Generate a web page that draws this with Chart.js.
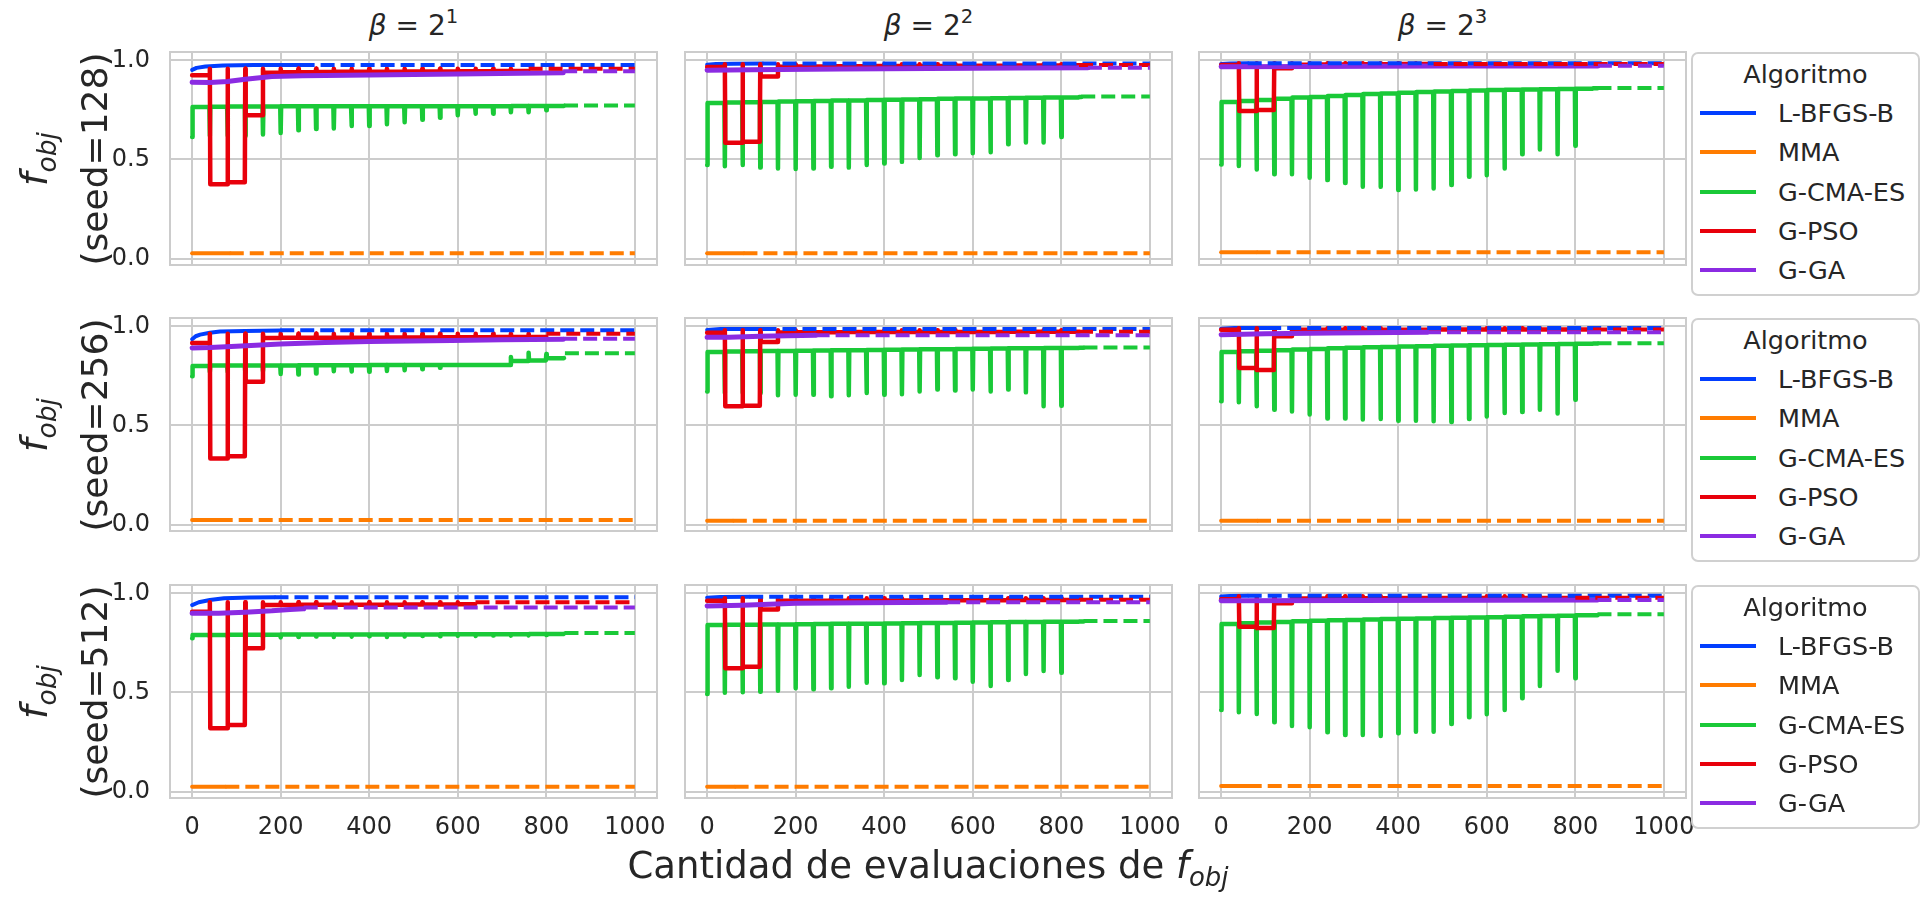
<!DOCTYPE html>
<html>
<head>
<meta charset="utf-8">
<script src="https://cdn.jsdelivr.net/npm/chart.js@4.4.1/dist/chart.umd.min.js"></script>
<style>
  body { margin: 0; width: 1925px; height: 898px; overflow: hidden; position: relative; background: #fff;
         font-family: 'DejaVu Sans', sans-serif; color: #262626; }
  canvas { position: absolute; }
  .txt { position: absolute; white-space: nowrap; text-align: center; }
  .legend { position: absolute; box-sizing: border-box; border: 2px solid #d0d0d0; border-radius: 7px; background: #fff; }
  .legend div { position: absolute; white-space: nowrap; }
</style>
</head>
<body>
<script>
// axis ticks and panel labels
const evalTicks = [0, 200, 400, 600, 800, 1000];
const fTicks = [0, 0.5, 1.0];
const betaExp = ['1', '2', '3'];
const seeds = ['128', '256', '512'];
const algorithms = ['L-BFGS-B', 'MMA', 'G-CMA-ES', 'G-PSO', 'G-GA'];
const algoColors = ['#023eff', '#ff7c00', '#1ac938', '#e8000b', '#8b2be2'];

// restarts of the population methods happen every 40 evaluations
const restartEvals = [0, 40, 80, 120, 160, 200, 240, 280, 320, 360, 400, 440, 480, 520, 560, 600, 640, 680, 720, 760, 800, 840];

// panels in reading order: seed 128 (beta 2^1, 2^2, 2^3), seed 256 ..., seed 512 ...
const lbfgsPoints = [
  [[0, 0.952], [10, 0.962], [30, 0.969], [70, 0.974], [140, 0.977], [245, 0.977]],
  [[0, 0.978], [20, 0.981], [60, 0.983], [125, 0.984]],
  [[0, 0.982], [20, 0.984], [60, 0.985]],
  [[0, 0.935], [8, 0.950], [18, 0.958], [40, 0.968], [63, 0.974], [120, 0.977], [199, 0.979]],
  [[0, 0.982], [30, 0.986], [125, 0.987]],
  [[0, 0.988], [30, 0.991], [104, 0.992]],
  [[0, 0.941], [15, 0.955], [40, 0.966], [72, 0.975], [130, 0.979], [186, 0.980]],
  [[0, 0.978], [30, 0.982], [95, 0.983]],
  [[0, 0.984], [20, 0.987], [60, 0.988]]
];
const lbfgsFinal = [0.977, 0.984, 0.985, 0.980, 0.987, 0.992, 0.980, 0.983, 0.988];

const mmaLevel = [0.027, 0.027, 0.032, 0.024, 0.020, 0.020, 0.025, 0.025, 0.028];
const mmaEnd = [85, 82, 80, 60, 58, 81, 75, 62, 60];

const cmaBase = [
  [0.765, 0.766, 0.767, 0.767, 0.767, 0.768, 0.768, 0.768, 0.768, 0.768, 0.768, 0.768, 0.769, 0.769, 0.769, 0.769, 0.769, 0.769, 0.770, 0.770, 0.770, 0.771],
  [0.785, 0.787, 0.789, 0.790, 0.792, 0.794, 0.795, 0.797, 0.798, 0.800, 0.801, 0.803, 0.804, 0.806, 0.807, 0.808, 0.809, 0.810, 0.811, 0.812, 0.813, 0.815],
  [0.790, 0.795, 0.800, 0.806, 0.812, 0.815, 0.820, 0.825, 0.830, 0.833, 0.837, 0.840, 0.843, 0.845, 0.848, 0.850, 0.852, 0.853, 0.854, 0.855, 0.857, 0.859],
  [0.800, 0.802, 0.803, 0.803, 0.803, 0.803, 0.804, 0.804, 0.804, 0.804, 0.805, 0.805, 0.805, 0.805, 0.805, 0.805, 0.805, 0.805, 0.825, 0.828, 0.839, 0.840],
  [0.871, 0.873, 0.874, 0.875, 0.876, 0.877, 0.878, 0.879, 0.880, 0.881, 0.882, 0.883, 0.884, 0.885, 0.886, 0.887, 0.888, 0.889, 0.890, 0.891, 0.891, 0.892],
  [0.871, 0.874, 0.877, 0.880, 0.883, 0.886, 0.889, 0.892, 0.894, 0.896, 0.898, 0.900, 0.902, 0.903, 0.905, 0.906, 0.907, 0.909, 0.910, 0.911, 0.912, 0.913],
  [0.790, 0.790, 0.791, 0.791, 0.791, 0.792, 0.792, 0.792, 0.792, 0.793, 0.793, 0.793, 0.793, 0.793, 0.794, 0.794, 0.794, 0.794, 0.794, 0.795, 0.795, 0.796],
  [0.840, 0.841, 0.842, 0.843, 0.843, 0.844, 0.845, 0.846, 0.846, 0.847, 0.848, 0.849, 0.850, 0.851, 0.852, 0.853, 0.854, 0.855, 0.856, 0.857, 0.857, 0.858],
  [0.845, 0.849, 0.853, 0.856, 0.859, 0.862, 0.864, 0.866, 0.868, 0.870, 0.872, 0.873, 0.875, 0.877, 0.878, 0.880, 0.882, 0.884, 0.886, 0.887, 0.889, 0.890]
];
const cmaDip = [
  [0.614, 0.620, 0.620, 0.620, 0.626, 0.634, 0.648, 0.654, 0.656, 0.669, 0.669, 0.678, 0.688, 0.701, 0.710, 0.723, 0.731, 0.731, 0.738, 0.738, 0.748],
  [0.472, 0.466, 0.472, 0.459, 0.455, 0.452, 0.455, 0.463, 0.459, 0.472, 0.480, 0.488, 0.508, 0.521, 0.526, 0.532, 0.537, 0.577, 0.586, 0.586, 0.614],
  [0.475, 0.467, 0.450, 0.426, 0.426, 0.408, 0.396, 0.382, 0.362, 0.362, 0.346, 0.349, 0.354, 0.371, 0.413, 0.421, 0.455, 0.527, 0.551, 0.527, 0.569],
  [0.748, 0.770, 0.770, 0.770, 0.775, 0.760, 0.757, 0.762, 0.773, 0.772, 0.771, 0.775, 0.778, 0.783, 0.791, 0.805, 0.805, 0.805, 0.845, 0.867, 0.860],
  [0.672, 0.664, 0.664, 0.664, 0.652, 0.655, 0.655, 0.647, 0.652, 0.664, 0.655, 0.658, 0.672, 0.681, 0.676, 0.681, 0.672, 0.681, 0.667, 0.597, 0.600],
  [0.622, 0.617, 0.597, 0.580, 0.571, 0.555, 0.535, 0.535, 0.530, 0.533, 0.524, 0.524, 0.521, 0.518, 0.533, 0.545, 0.563, 0.568, 0.580, 0.560, 0.630],
  [0.773, 0.780, 0.780, 0.780, 0.780, 0.778, 0.780, 0.782, 0.780, 0.782, 0.784, 0.780, 0.782, 0.785, 0.783, 0.786, 0.785, 0.787, 0.787, 0.788, 0.790],
  [0.492, 0.499, 0.501, 0.504, 0.509, 0.521, 0.516, 0.521, 0.529, 0.549, 0.546, 0.563, 0.588, 0.577, 0.572, 0.554, 0.533, 0.563, 0.593, 0.608, 0.600],
  [0.412, 0.400, 0.392, 0.350, 0.331, 0.325, 0.299, 0.286, 0.286, 0.281, 0.294, 0.302, 0.302, 0.341, 0.375, 0.390, 0.412, 0.471, 0.533, 0.610, 0.572]
];
const cmaEnd = [840, 845, 850, 842, 850, 850, 841, 850, 850];
const cmaFinal = [0.772, 0.818, 0.861, 0.864, 0.893, 0.915, 0.800, 0.860, 0.894];

const psoLevels = [
  [0.925, 0.375, 0.385, 0.723, 0.938, 0.940, 0.940, 0.941, 0.942, 0.942, 0.943, 0.943, 0.944, 0.944, 0.944, 0.945, 0.945, 0.946, 0.946],
  [0.966, 0.585, 0.590, 0.918, 0.968, 0.969, 0.969, 0.970, 0.970, 0.971, 0.971, 0.972, 0.972, 0.972, 0.973, 0.973, 0.973, 0.974, 0.974, 0.974, 0.975],
  [0.977, 0.745, 0.750, 0.960, 0.978, 0.979, 0.979, 0.980, 0.980, 0.980, 0.981, 0.981],
  [0.916, 0.333, 0.345, 0.720, 0.941, 0.942, 0.942, 0.942, 0.943, 0.943, 0.943, 0.944, 0.944, 0.944, 0.945, 0.945, 0.945, 0.946, 0.946, 0.946],
  [0.967, 0.597, 0.600, 0.921, 0.969, 0.970, 0.970, 0.970, 0.971, 0.971, 0.971, 0.971, 0.972, 0.972, 0.972, 0.972, 0.972, 0.973, 0.973, 0.973, 0.973],
  [0.983, 0.790, 0.780, 0.950, 0.983, 0.983, 0.983, 0.983, 0.983, 0.983, 0.983, 0.983, 0.984, 0.984, 0.984, 0.984, 0.984, 0.984, 0.984, 0.984, 0.984],
  [0.907, 0.320, 0.336, 0.723, 0.941, 0.941, 0.942, 0.942, 0.942, 0.943, 0.943, 0.943, 0.944, 0.944, 0.944, 0.945],
  [0.963, 0.622, 0.630, 0.919, 0.962, 0.963, 0.963, 0.963, 0.964, 0.964, 0.964, 0.964, 0.965, 0.965, 0.965, 0.965, 0.965, 0.966, 0.966, 0.966, 0.966],
  [0.970, 0.832, 0.825, 0.950, 0.974, 0.974, 0.975, 0.975, 0.975, 0.975, 0.976, 0.976, 0.976, 0.976, 0.976, 0.977, 0.977, 0.977, 0.977, 0.977]
];
const psoPeak = [0.958, 0.980, 0.985, 0.963, 0.980, 0.990, 0.955, 0.975, 0.985];
const psoFinal = [0.958, 0.976, 0.982, 0.963, 0.973, 0.984, 0.955, 0.968, 0.978];

const gaPoints = [
  [[0, 0.890], [40, 0.888], [80, 0.893], [120, 0.905], [180, 0.918], [250, 0.922], [400, 0.926], [600, 0.931], [838, 0.937]],
  [[0, 0.950], [100, 0.952], [300, 0.956], [500, 0.959], [700, 0.961], [860, 0.963]],
  [[0, 0.968], [200, 0.969], [500, 0.971], [851, 0.972]],
  [[0, 0.891], [40, 0.893], [100, 0.900], [199, 0.911], [300, 0.918], [400, 0.924], [586, 0.928], [700, 0.932], [838, 0.935]],
  [[0, 0.945], [50, 0.945], [120, 0.950], [245, 0.955]],
  [[0, 0.958], [100, 0.962], [250, 0.966], [465, 0.970]],
  [[0, 0.899], [60, 0.900], [120, 0.905], [180, 0.912], [221, 0.919], [252, 0.922]],
  [[0, 0.936], [80, 0.940], [200, 0.950], [350, 0.952], [540, 0.955]],
  [[0, 0.963], [300, 0.964], [600, 0.965], [850, 0.966]]
];
const gaFinal = [0.945, 0.963, 0.973, 0.938, 0.955, 0.970, 0.928, 0.955, 0.966];

// layout
const PANEL_W = 487, PANEL_H = 213;
const colLeft = [170, 685, 1199];
const rowTop = [52, 318, 585];
const LEGEND_LEFT = 1691, LEGEND_W = 229, LEGEND_H = 244;
const TEXT = '#262626', GRID = '#cccccc';
const solidWidth = [4, 4, 4.5, 4.5, 5];

Chart.defaults.font.family = "'DejaVu Sans', sans-serif";
Chart.defaults.color = TEXT;

function toXY(pairs) { return pairs.map(([x, y]) => ({ x, y })); }

function cmaPoints(p) {
  const base = cmaBase[p], dip = cmaDip[p], pts = [];
  for (let k = 0; k < base.length; k++) {
    const x0 = restartEvals[k];
    if (k < dip.length) { pts.push({ x: x0, y: dip[k] }); pts.push({ x: x0 + 1, y: base[k] }); }
    else pts.push({ x: x0, y: base[k] });
    const x1 = k + 1 < base.length ? restartEvals[k + 1] - 1 : cmaEnd[p];
    pts.push({ x: x1, y: base[k] });
  }
  return pts;
}

function psoPoints(p) {
  const lv = psoLevels[p], pts = [];
  lv.forEach((v, k) => {
    const x0 = restartEvals[k];
    if (k > 0) { pts.push({ x: x0, y: psoPeak[p] }); pts.push({ x: x0 + 1, y: v }); }
    else pts.push({ x: 0, y: v });
    pts.push({ x: restartEvals[k + 1] - 1, y: v });
  });
  pts.push({ x: restartEvals[lv.length], y: lv[lv.length - 1] });
  return pts;
}

const framePlugin = {
  id: 'frame',
  beforeDatasetsDraw(chart) {
    const { ctx, chartArea: a } = chart;
    ctx.save();
    ctx.strokeStyle = GRID;
    ctx.lineWidth = 2;
    ctx.strokeRect(a.left, a.top, a.right - a.left, a.bottom - a.top);
    ctx.restore();
  }
};

function makePanel(r, c) {
  const p = r * 3 + c;
  const ML = c === 0 ? 80 : 4, MR = r === 2 ? 40 : 4, MT = 4, MB = r === 2 ? 60 : 4;
  const cv = document.createElement('canvas');
  cv.width = ML + PANEL_W + MR;
  cv.height = MT + PANEL_H + MB;
  cv.style.left = (colLeft[c] - ML) + 'px';
  cv.style.top = (rowTop[r] - MT) + 'px';
  document.body.appendChild(cv);

  const solids = [
    toXY(lbfgsPoints[p]),
    [{ x: 0, y: mmaLevel[p] }, { x: mmaEnd[p], y: mmaLevel[p] }],
    cmaPoints(p),
    psoPoints(p),
    toXY(gaPoints[p])
  ];
  const finals = [lbfgsFinal[p], mmaLevel[p], cmaFinal[p], psoFinal[p], gaFinal[p]];

  const datasets = [];
  solids.forEach((pts, i) => {
    datasets.push({
      data: pts, borderColor: algoColors[i], borderWidth: solidWidth[i],
      borderJoinStyle: 'round', borderCapStyle: 'round', pointRadius: 0, order: 20 - i
    });
    const end = pts[pts.length - 1].x;
    datasets.push({
      data: [{ x: end, y: finals[i] }, { x: 1000, y: finals[i] }],
      borderColor: algoColors[i], borderWidth: 4, borderDash: [14, 6],
      pointRadius: 0, order: 10 - i
    });
  });

  new Chart(cv, {
    type: 'line',
    data: { datasets },
    options: {
      responsive: false, animation: false, devicePixelRatio: 1, events: [],
      layout: { padding: { left: 0, right: MR, top: MT, bottom: 0 }, autoPadding: false },
      plugins: { legend: { display: false }, tooltip: { enabled: false } },
      scales: {
        x: {
          type: 'linear', min: -50, max: 1050, bounds: 'data',
          afterBuildTicks: s => { s.ticks = evalTicks.map(v => ({ value: v })); },
          afterFit: s => { s.height = MB; s.paddingLeft = 0; s.paddingRight = 0; },
          grid: { color: GRID, lineWidth: 2, drawTicks: false },
          border: { display: false },
          ticks: { display: r === 2, font: { size: 24 }, color: TEXT, padding: 15, maxRotation: 0, autoSkip: false,
                   callback: v => String(v) }
        },
        y: {
          type: 'linear', min: -0.032, max: 1.042, bounds: 'data',
          afterBuildTicks: s => { s.ticks = fTicks.map(v => ({ value: v })); },
          afterFit: s => { s.width = ML; s.paddingTop = 0; s.paddingBottom = 0; },
          grid: { color: GRID, lineWidth: 2, drawTicks: false },
          border: { display: false },
          ticks: { display: c === 0, font: { size: 24 }, color: TEXT, padding: 20, callback: v => v.toFixed(1) }
        }
      }
    },
    plugins: [framePlugin]
  });
}

function addText(html, css) {
  const d = document.createElement('div');
  d.className = 'txt';
  d.innerHTML = html;
  Object.assign(d.style, css);
  document.body.appendChild(d);
  return d;
}

for (let r = 0; r < 3; r++) for (let c = 0; c < 3; c++) makePanel(r, c);

// column titles
betaExp.forEach((e, c) => {
  const cx = colLeft[c] + PANEL_W / 2;
  addText('<i>β</i> = 2<span style="font-size:0.7em;position:relative;top:-0.6em">' + e + '</span>',
    { left: (cx - 150) + 'px', top: '12px', width: '300px', fontSize: '28px', lineHeight: '28px' });
});

// row labels
seeds.forEach((s, r) => {
  const cy = rowTop[r] + PANEL_H / 2;
  addText('<i style="font-size:38px">f<sub style="font-size:0.7em">obj</sub></i><br>(seed=' + s + ')', {
    left: (58 - 150) + 'px', top: (cy - 48) + 'px', width: '300px', height: '96px',
    fontSize: '36px', lineHeight: '48px', transform: 'rotate(-90deg)'
  });
});

// x axis title
addText('Cantidad de evaluaciones de <i>f<sub style="font-size:0.7em">obj</sub></i>',
  { left: (928 - 400) + 'px', top: '847px', width: '800px', fontSize: '37px', lineHeight: '37px' });

// legends, one per row
rowTop.forEach(top => {
  const lg = document.createElement('div');
  lg.className = 'legend';
  Object.assign(lg.style, { left: LEGEND_LEFT + 'px', top: top + 'px', width: LEGEND_W + 'px', height: LEGEND_H + 'px' });
  const title = document.createElement('div');
  title.textContent = 'Algoritmo';
  Object.assign(title.style, { left: '0', width: (LEGEND_W - 4) + 'px', textAlign: 'center', top: '5px', fontSize: '25.5px', lineHeight: '30px' });
  lg.appendChild(title);
  algorithms.forEach((name, i) => {
    const cy = 59 + 39.3 * i;
    const line = document.createElement('div');
    Object.assign(line.style, { left: '7px', top: (cy - 2) + 'px', width: '56px', height: '4px', background: algoColors[i] });
    const label = document.createElement('div');
    label.textContent = name;
    Object.assign(label.style, { left: '85px', top: (cy - 15) + 'px', fontSize: '25.5px', lineHeight: '30px' });
    lg.appendChild(line);
    lg.appendChild(label);
  });
  document.body.appendChild(lg);
});
</script>
</body>
</html>
